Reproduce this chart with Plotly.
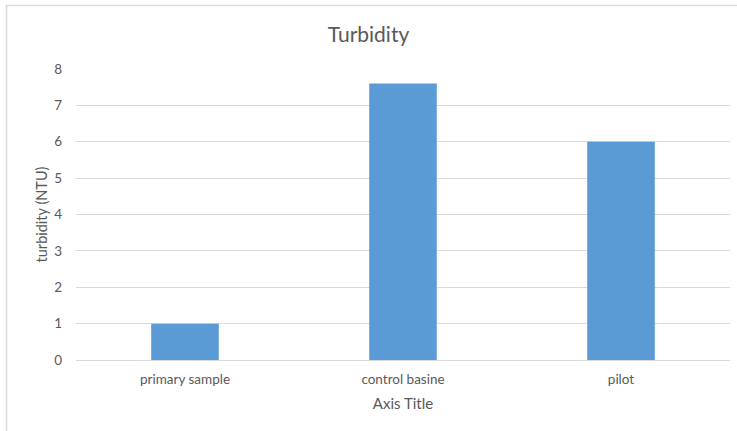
import plotly.graph_objects as go

categories = ["primary sample", "control basine", "pilot"]
turbidity = [1, 7.6, 6]
y_ticks = [0, 1, 2, 3, 4, 5, 6, 7, 8]

FONT = "Lato"
GREY = "#595959"

fig = go.Figure(go.Bar(x=categories, y=turbidity, marker=dict(color="#5b9bd5", line=dict(width=0))))

fig.update_layout(
    width=737, height=431,
    margin=dict(l=76, r=7, t=69, b=71),
    paper_bgcolor="white", plot_bgcolor="white",
    bargap=0.69,
    showlegend=False,
    font=dict(family=FONT, color=GREY, size=13),
    title=dict(text="Turbidity", x=0.5, xanchor="center", y=1 - 35 / 431, yanchor="middle",
               font=dict(family=FONT, size=21, color=GREY)),
    xaxis=dict(
        title=dict(text="Axis Title", font=dict(family=FONT, size=15, color=GREY), standoff=12),
        showline=True, linecolor="#d9d9d9", linewidth=1, ticks="", showgrid=False,
        tickfont=dict(family=FONT, size=13.5, color=GREY), ticklabelstandoff=7,
    ),
    yaxis=dict(
        title=dict(text="turbidity (NTU)", font=dict(family=FONT, size=14.5, color=GREY), standoff=3),
        range=[0, 8], tickvals=y_ticks, showgrid=True, gridcolor="#d9d9d9", gridwidth=1,
        zeroline=False, ticks="", tickfont=dict(family=FONT, size=13.5, color=GREY),
        ticklabelstandoff=13,
    ),
    shapes=[dict(type="rect", xref="paper", yref="paper",
                 x0=(6.5 - 76) / 654, x1=1.2, y0=-0.5, y1=(360 - 5.5) / 291,
                 line=dict(color="#d9d9d9", width=1.5), fillcolor="rgba(0,0,0,0)", layer="below")],
)

fig.write_html("out.html")
